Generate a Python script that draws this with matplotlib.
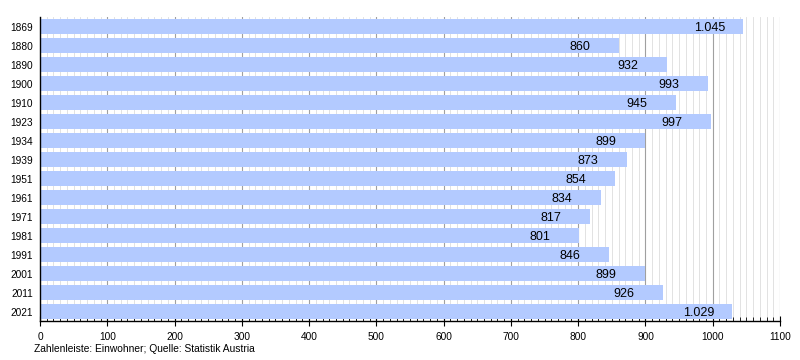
import matplotlib

matplotlib.use("Agg")
import matplotlib.pyplot as plt
from matplotlib.ticker import MultipleLocator

plt.rcParams["font.family"] = ["Liberation Sans", "DejaVu Sans"]

years = ["1869", "1880", "1890", "1900", "1910", "1923", "1934", "1939",
         "1951", "1961", "1971", "1981", "1991", "2001", "2011", "2021"]
population = [1045, 860, 932, 993, 945, 997, 899, 873,
              854, 834, 817, 801, 846, 899, 926, 1029]

BAR_COLOR = "#b3caff"


def _de_format(value: int) -> str:
    return f"{value:,}".replace(",", ".")


figure = plt.figure(figsize=(8, 3.6), dpi=100)
axis = figure.add_axes([0.05, 0.108, 0.925, 0.844])

positions = list(range(len(years)))
axis.barh(positions, population, height=0.8, color=BAR_COLOR, zorder=2)

for pos, value in zip(positions, population):
    label = _de_format(value)
    # label centred a little left of the bar end
    offset = 50 if len(label) > 3 else 58
    axis.text(value - offset, pos + 0.05, label, ha="center", va="center",
              fontsize=9, color="black", zorder=3)

axis.set_xlim(0, 1100)
axis.set_ylim(len(years) - 0.5, -0.5)
axis.set_yticks(positions)
axis.set_yticklabels(years, fontsize=7.3)
axis.tick_params(axis="y", length=0, pad=5)

axis.xaxis.set_major_locator(MultipleLocator(100))
axis.xaxis.set_minor_locator(MultipleLocator(10))
axis.tick_params(axis="x", which="major", direction="inout", length=7, labelsize=7.3, pad=4)
axis.tick_params(axis="x", which="minor", direction="in", length=3)

axis.grid(True, axis="x", which="major", color="#a0a0a0", linewidth=0.8, zorder=0)
axis.grid(True, axis="x", which="minor", color="#dddddd", linewidth=0.6, zorder=0)
axis.set_axisbelow(True)

for side in ("top", "right"):
    axis.spines[side].set_visible(False)
axis.spines["left"].set_linewidth(1.0)
axis.spines["bottom"].set_linewidth(1.0)

figure.text(0.043, 0.031, "Zahlenleiste: Einwohner; Quelle: Statistik Austria",
            fontsize=7.4, ha="left", va="center")

figure.savefig("out.png", dpi=100)
plt.close(figure)
